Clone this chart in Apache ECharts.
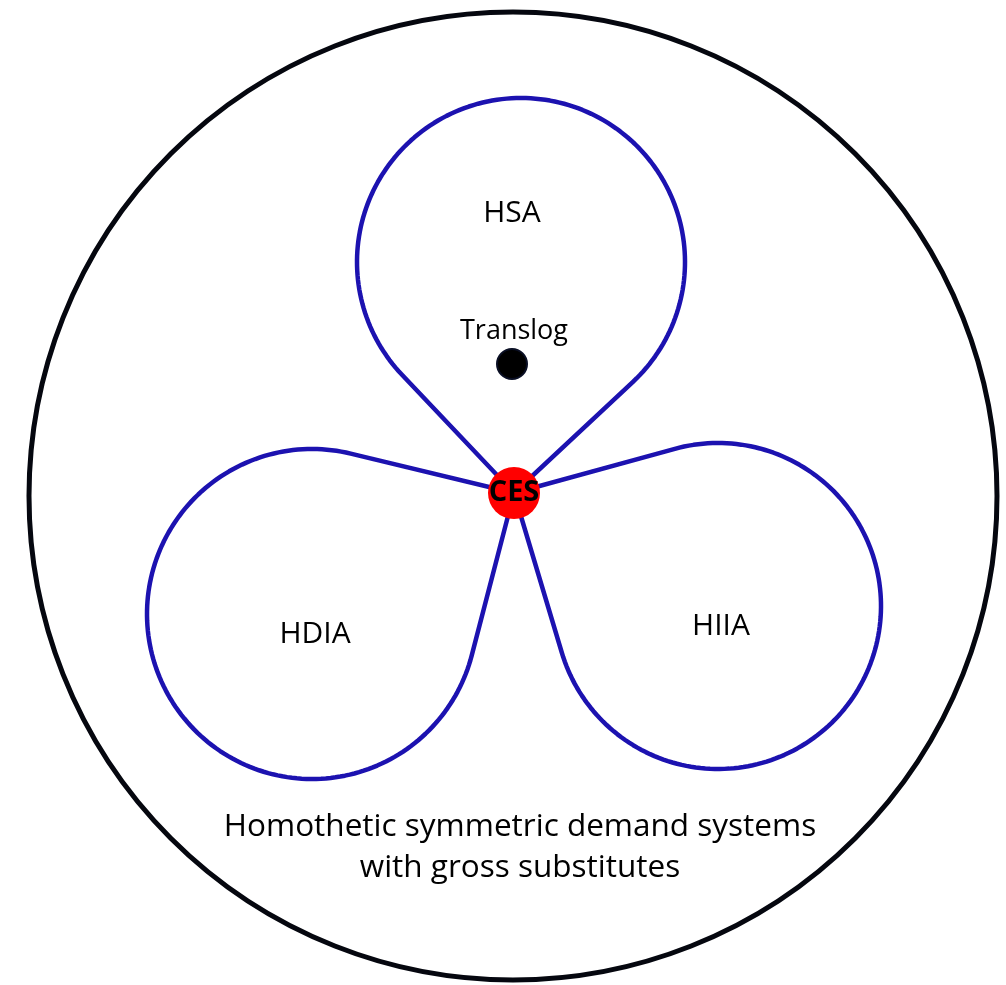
<!DOCTYPE html>
<html>
<head>
    <meta charset="utf-8" />
    <title></title>
    <script src="https://cdn.jsdelivr.net/npm/echarts@6/dist/echarts.min.js"></script>
    <style>
        html, body { margin: 0; padding: 0; background: #fff; }
        #container { width: 1006px; height: 985px; }
    </style>
</head>
<body>
    <div id="container"></div>

    <script>
        // outer circle: centre x, centre y, radius (diagram units = px)
        var outerCircle = [513, 496, 484];

        // teardrop loops meeting at CES
        var loopNames = ['HSA', 'HDIA', 'HIIA'];
        var loopCenterX = [521, 312, 718];
        var loopCenterY = [262, 614, 606];
        var loopRadius = [164, 165, 163];
        var labelX = [512, 315, 721];
        var labelY = [213, 634, 626];

        var cesPoint = [514, 493];
        var translogPoint = [512, 364];
        var translogLabel = [514, 331];
        var footText = ['Homothetic symmetric demand systems', 'with gross substitutes'];
        var footPos = [520, 848];

        var dom = document.getElementById('container');
        var myChart = echarts.init(dom);
        var fontName = '"Open Sans", sans-serif';

        var loopData = [];
        for (var i = 0; i < loopNames.length; i++) {
            loopData.push([loopCenterX[i], loopCenterY[i], loopRadius[i]]);
        }

        function renderLoop(params, api) {
            var c = api.coord([api.value(0), api.value(1)]);
            var r = api.size([api.value(2), 0])[0];
            var p = api.coord(cesPoint);
            var dx = c[0] - p[0], dy = c[1] - p[1];
            var d = Math.sqrt(dx * dx + dy * dy);
            var phi = Math.atan2(dy, dx);
            var beta = Math.acos(r / d);
            var start = phi + Math.PI + beta;
            var span = 2 * Math.PI - 2 * beta;
            var pts = [p.slice()];
            var n = 160;
            for (var k = 0; k <= n; k++) {
                var t = start + span * k / n;
                pts.push([c[0] + r * Math.cos(t), c[1] + r * Math.sin(t)]);
            }
            pts.push(p.slice());
            return {
                type: 'polyline',
                shape: { points: pts },
                style: { stroke: '#1c12b0', lineWidth: 4.5, fill: null, lineJoin: 'round' }
            };
        }

        function renderOuter(params, api) {
            var c = api.coord([api.value(0), api.value(1)]);
            var r = api.size([api.value(2), 0])[0];
            return {
                type: 'circle',
                shape: { cx: c[0], cy: c[1], r: r },
                style: { stroke: '#05070f', lineWidth: 5, fill: null }
            };
        }

        var textItems = [];
        for (var j = 0; j < loopNames.length; j++) {
            textItems.push({ name: loopNames[j], value: [labelX[j], labelY[j]] });
        }

        function textLabel(size, extra) {
            var l = {
                show: true,
                position: 'inside',
                formatter: '{b}',
                color: '#000',
                opacity: 1,
                fontFamily: fontName,
                fontSize: size
            };
            for (var key in extra) l[key] = extra[key];
            return l;
        }

        var clearItem = { color: 'rgba(0,0,0,0)', opacity: 1 };

        var option = {
            animation: false,
            grid: { left: 0, right: 0, top: 0, bottom: 0 },
            xAxis: { type: 'value', min: 0, max: 1006, show: false },
            yAxis: { type: 'value', min: 0, max: 985, inverse: true, show: false },
            series: [
                {
                    type: 'custom',
                    renderItem: renderOuter,
                    data: [outerCircle],
                    silent: true,
                    z: 1
                },
                {
                    type: 'custom',
                    renderItem: renderLoop,
                    data: loopData,
                    silent: true,
                    z: 2
                },
                {
                    type: 'scatter',
                    symbolSize: 1,
                    itemStyle: clearItem,
                    data: textItems,
                    label: textLabel(30, {}),
                    z: 3
                },
                {
                    type: 'scatter',
                    symbolSize: 1,
                    itemStyle: clearItem,
                    data: [{ name: 'Translog', value: translogLabel }],
                    label: textLabel(27, {}),
                    z: 3
                },
                {
                    type: 'scatter',
                    symbolSize: 30,
                    itemStyle: { color: '#000', borderColor: '#0a0f24', borderWidth: 2, opacity: 1 },
                    data: [translogPoint],
                    z: 4
                },
                {
                    type: 'scatter',
                    symbolSize: 52,
                    itemStyle: { color: '#ff0000', opacity: 1 },
                    data: [{ name: 'CES', value: cesPoint }],
                    label: textLabel(29, { fontWeight: 'bold' }),
                    z: 5
                },
                {
                    type: 'scatter',
                    symbolSize: 1,
                    itemStyle: clearItem,
                    data: [{ name: footText.join('\n'), value: footPos }],
                    label: textLabel(31.5, { lineHeight: 41, align: 'center' }),
                    z: 3
                }
            ]
        };
        myChart.setOption(option);
    </script>
</body>
</html>
